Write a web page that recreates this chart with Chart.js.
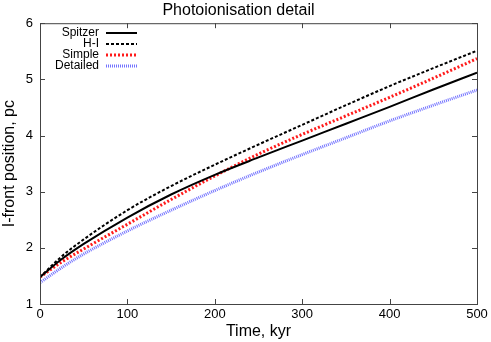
<!DOCTYPE html>
<html>
<head>
<meta charset="utf-8">
<script src="https://cdn.jsdelivr.net/npm/chart.js@4/dist/chart.umd.min.js"></script>
<style>
  html, body { margin: 0; padding: 0; background: #fff; }
  #wrap { width: 491px; height: 342px; }
</style>
</head>
<body>
<div id="wrap"><canvas id="chart"></canvas></div>
<script>
// Values
const times = [0, 25, 50, 100, 150, 200, 250, 300, 350, 400, 450, 500];
const spitzer = [1.48, 1.80, 2.07, 2.54, 2.95, 3.30, 3.61, 3.91, 4.21, 4.51, 4.82, 5.12];
const hI = [1.48, 1.85, 2.15, 2.67, 3.10, 3.48, 3.84, 4.19, 4.54, 4.88, 5.20, 5.51];
const simple = [1.48, 1.75, 1.98, 2.42, 2.86, 3.28, 3.67, 4.02, 4.35, 4.68, 5.02, 5.37];
const detailed = [1.38, 1.65, 1.89, 2.30, 2.67, 3.02, 3.35, 3.66, 3.96, 4.26, 4.54, 4.81];

const FONT = "'Liberation Sans', Arial, Helvetica, sans-serif";

function points(values) {
  return values.map((v, i) => ({ x: times[i], y: v }));
}

// Draws the closed frame, inward ticks on all sides and the in-plot legend
const framePlugin = {
  id: "frame",
  afterDraw(chart) {
    const ctx = chart.ctx;
    const area = chart.chartArea;
    const xs = chart.scales.x;
    const ys = chart.scales.y;
    ctx.save();
    ctx.strokeStyle = "#444";
    ctx.lineWidth = 1;
    ctx.strokeRect(area.left + 0.5, area.top + 0.5, area.right - area.left, area.bottom - area.top);
    ctx.beginPath();
    xs.ticks.forEach((t) => {
      const px = Math.round(xs.getPixelForValue(t.value)) + 0.5;
      ctx.moveTo(px, area.bottom);
      ctx.lineTo(px, area.bottom - 5);
      ctx.moveTo(px, area.top);
      ctx.lineTo(px, area.top + 5);
    });
    ys.ticks.forEach((t) => {
      const py = Math.round(ys.getPixelForValue(t.value)) + 0.5;
      ctx.moveTo(area.left, py);
      ctx.lineTo(area.left + 5, py);
      ctx.moveTo(area.right, py);
      ctx.lineTo(area.right - 5, py);
    });
    ctx.stroke();

    // legend: text right-aligned, sample line on its right
    ctx.font = "12px " + FONT;
    ctx.textAlign = "right";
    ctx.textBaseline = "middle";
    chart.data.datasets.forEach((ds, i) => {
      const y = 33 + i * 11;
      ctx.fillStyle = "#000";
      ctx.fillText(ds.label, 99, y);
      ctx.beginPath();
      ctx.strokeStyle = ds.borderColor;
      ctx.lineWidth = ds.borderWidth;
      ctx.setLineDash(ds.borderDash || []);
      ctx.moveTo(106, y);
      ctx.lineTo(137, y);
      ctx.stroke();
    });
    ctx.restore();
  },
};

const ctx = document.getElementById("chart").getContext("2d");
new Chart(ctx, {
  type: "line",
  data: {
    datasets: [
      {
        label: "Spitzer",
        data: points(spitzer),
        borderColor: "#000",
        borderWidth: 2,
      },
      {
        label: "H-I",
        data: points(hI),
        borderColor: "#000",
        borderWidth: 2,
        borderDash: [3, 2],
      },
      {
        label: "Simple",
        data: points(simple),
        borderColor: "#ff1a1a",
        borderWidth: 3,
        borderDash: [2, 2],
      },
      {
        label: "Detailed",
        data: points(detailed),
        borderColor: "#7373ff",
        borderWidth: 3,
        borderDash: [1, 1],
      },
    ],
  },
  options: {
    responsive: true,
    maintainAspectRatio: false,
    animation: false,
    elements: {
      point: { radius: 0 },
      line: { cubicInterpolationMode: "monotone", fill: false },
    },
    layout: { padding: { left: 0, right: 14, top: 0, bottom: 0 } },
    plugins: {
      legend: { display: false },
      tooltip: { enabled: false },
      title: {
        display: true,
        text: "Photoionisation detail",
        color: "#000",
        font: { family: FONT, size: 16, weight: "normal" },
        padding: { top: 1, bottom: 3 },
      },
    },
    scales: {
      x: {
        type: "linear",
        min: 0,
        max: 500,
        ticks: { stepSize: 100, color: "#000", font: { family: FONT, size: 13 }, padding: 3 },
        grid: { display: false, drawTicks: false },
        border: { display: false },
        title: {
          display: true,
          text: "Time, kyr",
          color: "#000",
          font: { family: FONT, size: 16 },
          padding: { top: 0, bottom: 1 },
        },
        afterFit(scale) {
          scale.height = 38;
        },
      },
      y: {
        type: "linear",
        min: 1,
        max: 6,
        ticks: { stepSize: 1, color: "#000", font: { family: FONT, size: 13 }, padding: 7 },
        grid: { display: false, drawTicks: false },
        border: { display: false },
        title: {
          display: true,
          text: "I-front position, pc",
          color: "#000",
          font: { family: FONT, size: 16 },
          padding: 0,
        },
        afterFit(scale) {
          scale.width = 40;
        },
      },
    },
  },
  plugins: [framePlugin],
});
</script>
</body>
</html>
